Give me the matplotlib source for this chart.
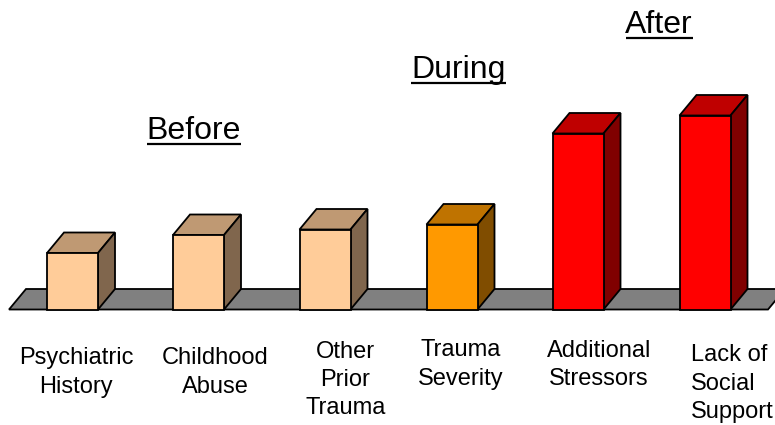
import matplotlib
matplotlib.use('Agg')
import matplotlib.pyplot as plt
from matplotlib.patches import Polygon

plt.rcParams['font.family'] = ['Liberation Sans', 'DejaVu Sans']

categories = ['Psychiatric\nHistory', 'Childhood\nAbuse', 'Other\nPrior\nTrauma',
              'Trauma\nSeverity', 'Additional\nStressors', 'Lack of\nSocial\nSupport']
values = [56.5, 74.5, 80, 85, 176, 194]
bar_left = [47, 173, 299.5, 426.5, 552.5, 679.5]
front_colors = ['#FFCC99', '#FFCC99', '#FFCC99', '#FF9900', '#FF0000', '#FF0000']
top_colors = ['#BF9973', '#BF9973', '#BF9973', '#BF7300', '#BF0000', '#BF0000']
side_colors = ['#80664D', '#80664D', '#80664D', '#804D00', '#800000', '#800000']

BASE_PX = 309.5

# label centre in picture pixels
label_x = [76, 215, 345.5, 461, 599, 691]
label_y = [372.5, 372.5, 380, 364.5, 365, 383.5]
label_ha = ['center', 'center', 'center', 'center', 'center', 'left']

groups = ['Before', 'During', 'After']
group_x = [194, 458.5, 659]
group_base_px = [139, 78, 33]
group_width = [94, 95, 67]

BAR_W = 51
DX, DY = 17, 20.5

fig = plt.figure(figsize=(7.75, 4.25), dpi=100)
ax = fig.add_axes([0, 0, 1, 1])
ax.set_xlim(0, 775)
ax.set_ylim(BASE_PX - 425, BASE_PX)
ax.axis('off')

# floor
ax.add_patch(Polygon([(9, 0), (768, 0), (768 + DX, DY), (9 + DX, DY)], closed=True,
                     facecolor='#808080', edgecolor='black', lw=1.3, zorder=1))

ax.bar(bar_left, values, width=BAR_W, align='edge', color=front_colors,
       edgecolor='black', linewidth=1.3, zorder=3)

# fake 3d faces
for x, h, tc, sc in zip(bar_left, values, top_colors, side_colors):
    r = x + BAR_W
    ax.add_patch(Polygon([(x, h), (r, h), (r + DX, h + DY), (x + DX, h + DY)], closed=True,
                         facecolor=tc, edgecolor='black', lw=1.3, zorder=2))
    ax.add_patch(Polygon([(r, 0), (r + DX, DY), (r + DX, h + DY), (r, h)], closed=True,
                         facecolor=sc, edgecolor='black', lw=1.3, zorder=2))

for x, y, t, ha in zip(label_x, label_y, categories, label_ha):
    ax.text(x, BASE_PX - y, t, ha=ha, va='center', multialignment=ha, fontsize=17,
            linespacing=1.36, color='black')

for x, y, t, w in zip(group_x, group_base_px, groups, group_width):
    ax.text(x, BASE_PX - y, t, ha='center', va='baseline', fontsize=23, color='black')
    ax.plot([x - w / 2, x + w / 2], [BASE_PX - y - 5, BASE_PX - y - 5], color='black',
            lw=1.6, solid_capstyle='butt')

fig.savefig('out.png', dpi=100)
